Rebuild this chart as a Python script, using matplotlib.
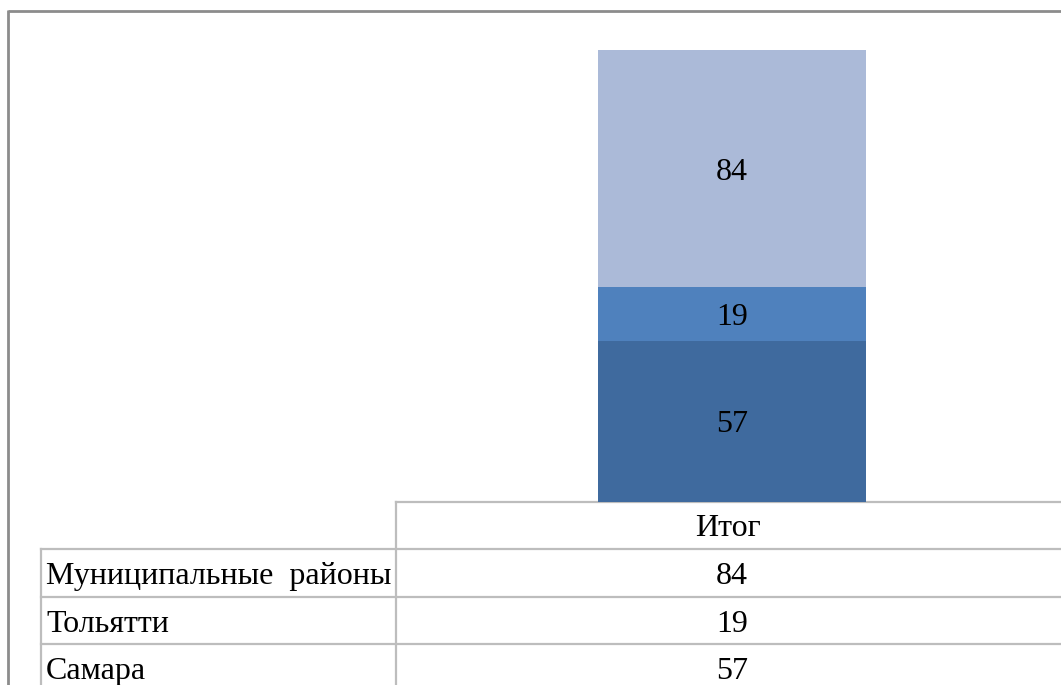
import matplotlib
matplotlib.use("Agg")
import matplotlib.pyplot as plt

# data
series = ["Самара", "Тольятти", "Муниципальные районы"]
values = [57, 19, 84]
colors = ["#3F6A9E", "#4F81BD", "#ABBAD8"]
category = "Итог"

W, H = 1061, 685
plt.rcParams['font.family'] = ['Liberation Serif', 'DejaVu Serif']
fig = plt.figure(figsize=(W / 100, H / 100), dpi=100)
FS = 23

# background axes in pixel coordinates for frame and table
bg = fig.add_axes([0, 0, 1, 1])
bg.set_xlim(0, W)
bg.set_ylim(H, 0)
bg.axis('off')

# outer frame (only top and left visible in the crop)
bg.plot([8, W], [11, 11], color='#8C8C8C', lw=2.0, solid_capstyle='butt')
bg.plot([8, 8], [10, H], color='#8C8C8C', lw=2.0, solid_capstyle='butt')

# stacked bar
x0, x1 = 396, 1061
y_top, y_bot = 50, 502
ax = fig.add_axes([x0 / W, 1 - y_bot / H, (x1 - x0) / W, (y_bot - y_top) / H])
ax.set_xlim(-0.505, 0.495)
ax.set_ylim(0, sum(values))
ax.axis('off')
bottom = 0
for name, v, c in zip(series, values, colors):
    ax.bar(0, v, width=0.403, bottom=bottom, color=c, linewidth=0)
    ax.text(0, bottom + v / 2, str(v), ha='center', va='center_baseline', fontsize=FS, color='black')
    bottom += v

# data table
line_c = '#BDBDBD'
rows_y = [502, 549, 597, 644, 692]
label_x = 41
bg.plot([x0, W], [rows_y[0], rows_y[0]], color=line_c, lw=1.6)
for y in rows_y[1:4]:
    bg.plot([label_x, W], [y, y], color=line_c, lw=1.6)
bg.plot([x0, x0], [rows_y[0], H], color=line_c, lw=1.6)
bg.plot([label_x, label_x], [rows_y[1], H], color=line_c, lw=1.6)

val_cx = 732
bg.text(val_cx - 4, (rows_y[0] + rows_y[1]) / 2, category, ha='center', va='center_baseline', fontsize=FS)
table_rows = list(zip(series, values))[::-1]
for i, (name, v) in enumerate(table_rows):
    yc = (rows_y[i + 1] + rows_y[i + 2]) / 2
    label = name.replace(" ", "  ")
    bg.text(label_x + 5, yc, label, ha='left', va='center_baseline', fontsize=FS)
    bg.text(val_cx, yc, str(v), ha='center', va='center_baseline', fontsize=FS)

fig.savefig("out.png", dpi=100)
